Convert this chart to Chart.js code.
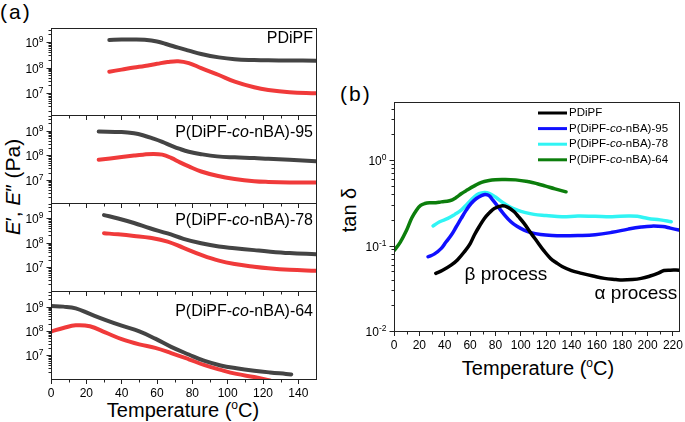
<!DOCTYPE html>
<html>
<head>
<meta charset="utf-8">
<script src="https://cdn.jsdelivr.net/npm/chart.js@4.4.0/dist/chart.umd.min.js"></script>
<style>
  body { margin: 0; background: #fff; }
  #fig { position: relative; width: 685px; height: 422px; overflow: hidden; font-family: "Liberation Sans", Arial, sans-serif; color: #000; }
  #fig canvas { position: absolute; }
  .t { position: absolute; white-space: nowrap; line-height: 1; }
  .c { transform: translate(-50%, -50%); }
  .r { transform: translate(-50%, -50%) rotate(-90deg); }
  sup { font-size: 0.6em; vertical-align: 0.65em; line-height: 0; }
</style>
</head>
<body>
<div id="fig">
  <div class="t" style="left:0;top:1px;font-size:21px;letter-spacing:2px">(a)</div>
  <div class="t" style="left:340px;top:83px;font-size:21px;letter-spacing:2px">(b)</div>
  <div class="t c" style="left:183px;top:410px;font-size:20px">Temperature (<sup>o</sup>C)</div>
  <div class="t c" style="left:538px;top:368px;font-size:20px">Temperature (<sup>o</sup>C)</div>
  <div class="t r" style="left:12px;top:187px;font-size:21px"><i>E</i>′, <i>E</i>″ (Pa)</div>
  <div class="t r" style="left:349px;top:210px;font-size:20px">tan δ</div>
</div>
<script>
// ---- panel (a): E' and E'' vs temperature, one subplot per sample ----
const sampleNames = ['PDiPF', 'P(DiPF-co-nBA)-95', 'P(DiPF-co-nBA)-78', 'P(DiPF-co-nBA)-64'];

const tempPDiPF = [33, 40, 47, 53, 60, 66, 72, 78, 85, 95, 104, 115, 123, 135, 150];
const storagePDiPF = [1.2e9, 1.25e9, 1.26e9, 1.22e9, 1.05e9, 8.0e8, 6.0e8, 4.6e8, 3.4e8, 2.5e8, 2.12e8, 1.97e8, 1.92e8, 1.9e8, 1.86e8];
const lossPDiPF = [6.9e7, 8.3e7, 1.0e8, 1.15e8, 1.4e8, 1.65e8, 1.78e8, 1.5e8, 9.5e7, 5.1e7, 2.8e7, 1.68e7, 1.32e7, 1.08e7, 9.8e6];

const temp95 = [27, 40, 47, 52, 58, 63, 68, 73, 78, 85, 94, 104, 115, 123, 135, 150];
const storage95 = [9.3e8, 8.9e8, 7.9e8, 6.6e8, 4.8e8, 3.55e8, 2.5e8, 1.82e8, 1.41e8, 1.12e8, 9.1e7, 8.3e7, 7.8e7, 7.2e7, 6.6e7, 5.8e7];
const loss95 = [6.6e7, 8.5e7, 9.8e7, 1.07e8, 1.15e8, 1.07e8, 7.9e7, 5.2e7, 3.55e7, 2.2e7, 1.48e7, 1.1e7, 8.9e6, 8.3e6, 7.9e6, 7.8e6];

const temp78 = [30, 38, 47, 56, 66, 75, 85, 95, 104, 115, 123, 135, 150];
const storage78 = [1.35e9, 9.8e8, 6.4e8, 3.9e8, 2.4e8, 1.45e8, 9.5e7, 7.0e7, 6.0e7, 5.0e7, 4.4e7, 3.8e7, 3.4e7];
const loss78 = [2.45e8, 2.2e8, 1.9e8, 1.6e8, 1.12e8, 6.2e7, 3.2e7, 1.85e7, 1.35e7, 1.05e7, 9.1e6, 7.9e6, 7.2e6];

const temp64 = [0, 7, 14, 22, 31, 40, 50, 59, 68, 78, 87, 96, 105, 115, 124, 133, 136];
const storage64 = [1.07e9, 1.0e9, 8.5e8, 5.0e8, 2.8e8, 1.65e8, 9.5e7, 4.8e7, 2.2e7, 1.07e7, 5.8e6, 3.8e6, 2.9e6, 2.3e6, 1.95e6, 1.7e6, 1.62e6];
const loss64 = [9.5e7, 1.32e8, 1.7e8, 1.55e8, 8.5e7, 4.6e7, 2.8e7, 2.0e7, 1.23e7, 6.8e6, 3.9e6, 2.5e6, 1.7e6, 1.26e6, 9.1e5, null, null];

const tempsA = [tempPDiPF, temp95, temp78, temp64];
const storageA = [storagePDiPF, storage95, storage78, storage64];
const lossA = [lossPDiPF, loss95, loss78, loss64];
const modulusMin = [1.38e6, 1.15e6, 1.07e6, 1.05e6];
const modulusMax = [3.55e9, 4.4e9, 4.2e9, 4.4e9];
const tempTicksA = [0, 20, 40, 60, 80, 100, 120, 140];

// ---- panel (b): tan delta ----
const tempTanPDiPF = [33, 38, 45, 50, 55.6, 60, 63.4, 67, 71.3, 75, 79.1, 85.6, 90, 94.8, 98, 102.6, 108, 113, 118, 123.5, 128, 132.6, 140, 148, 157, 166, 175, 180, 188, 195, 202, 208, 213, 218, 225];
const tanPDiPF = [0.0473, 0.051, 0.059, 0.068, 0.085, 0.105, 0.133, 0.165, 0.208, 0.24, 0.272, 0.292, 0.28, 0.249, 0.22, 0.182, 0.14, 0.111, 0.088, 0.0708, 0.063, 0.057, 0.051, 0.0473, 0.044, 0.0413, 0.040, 0.0395, 0.040, 0.0413, 0.044, 0.0473, 0.051, 0.0516, 0.0516];

const tempTan95 = [26.9, 32, 37.3, 41, 45.2, 49, 53, 57, 60.8, 65, 69.9, 72, 75, 78, 81.7, 86, 92.2, 97, 102.6, 108, 115.6, 125, 132.6, 145, 158.7, 172, 184.8, 195, 203, 212, 218, 224.7];
const tan95 = [0.074, 0.08, 0.0927, 0.11, 0.133, 0.165, 0.208, 0.26, 0.311, 0.356, 0.39, 0.397, 0.385, 0.34, 0.29, 0.24, 0.19, 0.168, 0.152, 0.142, 0.135, 0.131, 0.130, 0.131, 0.134, 0.143, 0.156, 0.165, 0.169, 0.167, 0.16, 0.152];

const tempTan78 = [30.8, 36, 42.5, 48, 53, 58, 63.4, 67, 71.3, 75, 80, 86.9, 92, 97.3, 103, 110.4, 120, 132.6, 145, 158.7, 172, 184.8, 192, 200.5, 210, 218.7];
const tan78 = [0.17, 0.19, 0.208, 0.232, 0.26, 0.31, 0.372, 0.405, 0.419, 0.41, 0.37, 0.311, 0.28, 0.26, 0.245, 0.232, 0.225, 0.217, 0.222, 0.22, 0.218, 0.222, 0.22, 0.208, 0.2, 0.19];

const tempTan64 = [0, 5, 10, 14, 17.7, 21, 24.3, 28, 33, 37.3, 43.8, 49, 53, 58, 63.4, 69, 75, 80, 85.6, 96, 106.5, 113, 119.6, 127, 135.7];
const tan64 = [0.087, 0.11, 0.152, 0.21, 0.26, 0.295, 0.311, 0.318, 0.318, 0.325, 0.335, 0.365, 0.405, 0.45, 0.5, 0.55, 0.578, 0.59, 0.594, 0.588, 0.558, 0.53, 0.497, 0.462, 0.426];

const tanTemps = [tempTanPDiPF, tempTan95, tempTan78, tempTan64];
const tanValues = [tanPDiPF, tan95, tan78, tan64];
const tanColors = ['#000000', '#1010ff', '#30f4f4', '#0c7e0c'];
const tempTicksB = [0, 20, 40, 60, 80, 100, 120, 140, 160, 180, 200, 220];
const processLabels = ['β process', 'α process'];
const processAt = [[55.6, 0.045], [158.2, 0.027]];

const FONT = '"Liberation Sans", Arial, sans-serif';
const AXIS = '#222';

function points(xs, ys) {
  return xs.map((x, i) => ({ x: x, y: ys[i] }));
}

function richParts(name) {
  const i = name.indexOf('-co-');
  if (i < 0) return [[name, false]];
  return [[name.slice(0, i + 1), false], ['co', true], [name.slice(i + 3), false]];
}

function drawRich(ctx, name, x, y, size, align) {
  const parts = richParts(name);
  const fonts = parts.map(p => (p[1] ? 'italic ' : '') + size + 'px ' + FONT);
  const widths = parts.map((p, i) => { ctx.font = fonts[i]; return ctx.measureText(p[0]).width; });
  let cx = align === 'right' ? x - widths.reduce((a, b) => a + b, 0) : x;
  ctx.textAlign = 'left';
  ctx.textBaseline = 'middle';
  ctx.fillStyle = '#000';
  parts.forEach((p, i) => {
    ctx.font = fonts[i];
    ctx.fillText(p[0], cx, y);
    cx += widths[i];
  });
}

function drawPow(ctx, xr, py, e) {
  const ex = String(e);
  ctx.font = '12px ' + FONT;
  const w1 = ctx.measureText('10').width;
  ctx.font = '8.5px ' + FONT;
  const w2 = ctx.measureText(ex).width;
  ctx.fillStyle = '#000';
  ctx.textAlign = 'left';
  ctx.textBaseline = 'alphabetic';
  ctx.font = '12px ' + FONT;
  ctx.fillText('10', xr - w1 - w2, py + 4.5);
  ctx.font = '8.5px ' + FONT;
  ctx.fillText(ex, xr - w2, py - 1);
}

// frame, log ticks with 10^n labels, minor temperature ticks
const axesDeco = {
  id: 'axesDeco',
  afterDraw(chart) {
    const { ctx, chartArea: a, scales: { x, y } } = chart;
    ctx.save();
    ctx.strokeStyle = AXIS;
    ctx.lineWidth = 1;
    const L = Math.round(a.left) + 0.5, R = Math.round(a.right) + 0.5;
    const T = Math.round(a.top) + 0.5, B = Math.round(a.bottom) + 0.5;
    ctx.strokeRect(L, T, R - L, B - T);

    const lo = Math.floor(Math.log10(y.min)), hi = Math.ceil(Math.log10(y.max));
    for (let e = lo; e <= hi; e++) {
      for (let m = 1; m < 10; m++) {
        const v = m * Math.pow(10, e);
        if (v < y.min * 0.999 || v > y.max * 1.001) continue;
        const py = Math.round(y.getPixelForValue(v)) + 0.5;
        const len = m === 1 ? 5 : 3;
        ctx.beginPath();
        ctx.moveTo(L - len, py);
        ctx.lineTo(L, py);
        ctx.stroke();
        if (m === 1) drawPow(ctx, L - 8, py, e);
      }
    }
    for (let v = 10; v < x.max; v += 20) {
      const px = Math.round(x.getPixelForValue(v)) + 0.5;
      ctx.beginPath();
      ctx.moveTo(px, B);
      ctx.lineTo(px, B + 3);
      ctx.stroke();
    }
    ctx.restore();
  }
};

const sampleLabel = {
  id: 'sampleLabel',
  afterDraw(chart, args, opts) {
    const a = chart.chartArea;
    chart.ctx.save();
    drawRich(chart.ctx, opts.text, a.right - 3, a.top + opts.dy, 16, 'right');
    chart.ctx.restore();
  }
};

const tanLegend = {
  id: 'tanLegend',
  afterDraw(chart) {
    const { ctx, chartArea: a } = chart;
    ctx.save();
    chart.data.datasets.forEach((ds, i) => {
      const y = a.top + 11 + i * 15.6;
      ctx.strokeStyle = ds.borderColor;
      ctx.lineWidth = 3;
      ctx.beginPath();
      ctx.moveTo(a.left + 144, y);
      ctx.lineTo(a.left + 173, y);
      ctx.stroke();
      drawRich(ctx, ds.label, a.left + 175, y, 11.5, 'left');
    });
    ctx.restore();
  }
};

const processText = {
  id: 'processText',
  afterDraw(chart) {
    const { ctx, scales: { x, y } } = chart;
    ctx.save();
    ctx.fillStyle = '#000';
    ctx.font = '19px ' + FONT;
    ctx.textAlign = 'left';
    ctx.textBaseline = 'middle';
    processLabels.forEach((t, i) => {
      ctx.fillText(t, x.getPixelForValue(processAt[i][0]), y.getPixelForValue(processAt[i][1]));
    });
    ctx.restore();
  }
};

const fig = document.getElementById('fig');
function makeCanvas(left, top, w, h) {
  const c = document.createElement('canvas');
  c.width = w;
  c.height = h;
  c.style.left = left + 'px';
  c.style.top = top + 'px';
  fig.appendChild(c);
  return c;
}

const xTickFont = { family: FONT, size: 12 };
const subTops = [28, 115, 203, 291, 379];

for (let i = 0; i < 4; i++) {
  const top = subTops[i], bottom = subTops[i + 1];
  const last = i === 3;
  const cv = makeCanvas(0, top - 8, 330, bottom - top + 8 + (last ? 24 : 8));
  new Chart(cv, {
    type: 'line',
    data: {
      datasets: [
        { label: "E'", data: points(tempsA[i], storageA[i]), borderColor: '#444444', borderWidth: 4 },
        { label: "E''", data: points(tempsA[i], lossA[i]), borderColor: '#f03a3a', borderWidth: 4 }
      ]
    },
    options: {
      responsive: false,
      animation: false,
      devicePixelRatio: 1,
      layout: { padding: { left: 0, right: 14, top: 8, bottom: last ? 0 : 8 } },
      elements: { point: { radius: 0 }, line: { tension: 0.4, borderCapStyle: 'round' } },
      datasets: { line: { clip: 0, spanGaps: false } },
      plugins: {
        legend: { display: false },
        tooltip: { enabled: false },
        sampleLabel: { text: sampleNames[i], dy: [11, 18, 18, 21][i] }
      },
      scales: {
        x: {
          type: 'linear', min: 0, max: 150,
          afterFit(s) { s.height = last ? 24 : 0; },
          afterBuildTicks(s) { s.ticks = tempTicksA.map(v => ({ value: v })); },
          ticks: { display: last, font: xTickFont, color: '#000', padding: 2, maxRotation: 0 },
          grid: { drawOnChartArea: false, tickLength: 5, color: AXIS },
          border: { display: false }
        },
        y: {
          type: 'logarithmic', min: modulusMin[i], max: modulusMax[i],
          afterFit(s) { s.width = 51; },
          ticks: { display: false },
          grid: { display: false },
          border: { display: false }
        }
      }
    },
    plugins: [axesDeco, sampleLabel]
  });
}

const cvB = makeCanvas(330, 90, 355, 262);
new Chart(cvB, {
  type: 'line',
  data: {
    datasets: sampleNames.map((name, i) => ({
      label: name,
      data: points(tanTemps[i], tanValues[i]),
      borderColor: tanColors[i],
      borderWidth: 3.5
    }))
  },
  options: {
    responsive: false,
    animation: false,
    devicePixelRatio: 1,
    layout: { padding: { left: 0, right: 4, top: 12, bottom: 0 } },
    elements: { point: { radius: 0 }, line: { tension: 0.4, borderCapStyle: 'round' } },
    datasets: { line: { clip: 0 } },
    plugins: { legend: { display: false }, tooltip: { enabled: false } },
    scales: {
      x: {
        type: 'linear', min: 0, max: 225,
        afterFit(s) { s.height = 21; },
        afterBuildTicks(s) { s.ticks = tempTicksB.map(v => ({ value: v })); },
        ticks: { font: xTickFont, color: '#000', padding: 2, maxRotation: 0 },
        grid: { drawOnChartArea: false, tickLength: 5, color: AXIS },
        border: { display: false }
      },
      y: {
        type: 'logarithmic', min: 0.01, max: 4.8,
        afterFit(s) { s.width = 64; },
        ticks: { display: false },
        grid: { display: false },
        border: { display: false }
      }
    }
  },
  plugins: [axesDeco, tanLegend, processText]
});
</script>
</body>
</html>
